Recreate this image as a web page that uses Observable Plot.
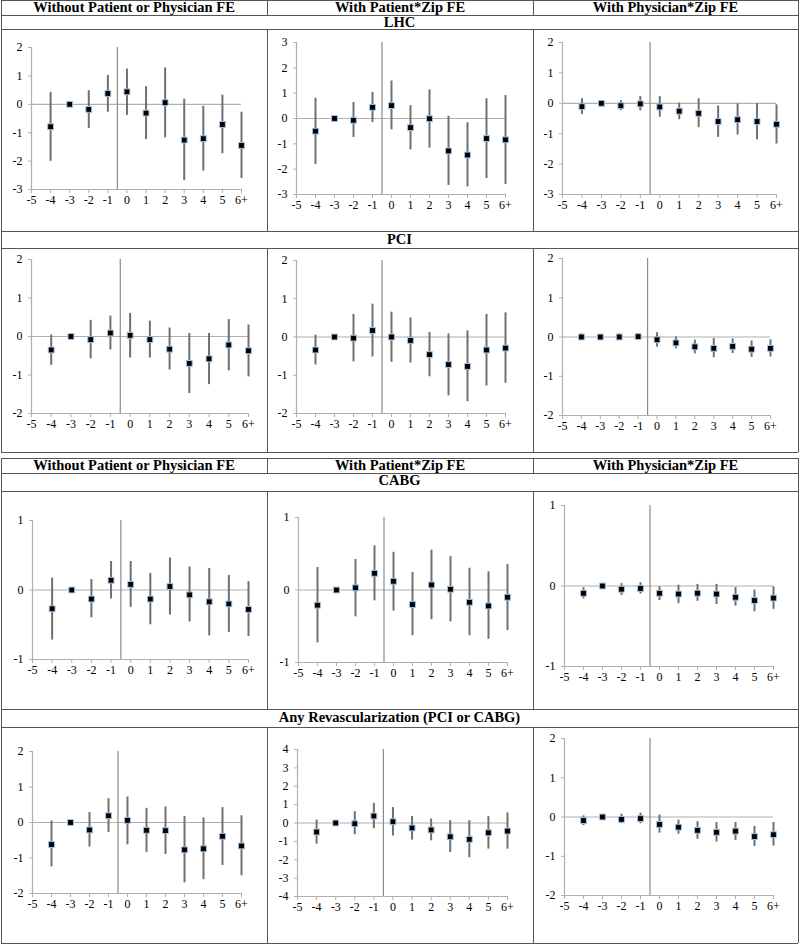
<!DOCTYPE html>
<html><head><meta charset="utf-8">
<script src="https://cdn.jsdelivr.net/npm/d3@7"></script>
<script src="https://cdn.jsdelivr.net/npm/@observablehq/plot@0.6"></script>
<style>
body{margin:0;background:#fff;}
#root{position:relative;width:800px;height:944px;overflow:hidden;font-family:"Liberation Serif","DejaVu Serif",serif;}
.hl{position:absolute;height:0;border-top:1px solid #555;}
.vl{position:absolute;width:0;border-left:1px solid #555;}
.hdr{position:absolute;text-align:center;font-weight:bold;font-size:14.5px;line-height:15px;color:#000;white-space:nowrap;}
.pnl{position:absolute;}
</style></head>
<body><div id="root"></div>
<script>
// ---------- data ----------
const eventTimes = [-4, -3, -2, -1, 0, 1, 2, 3, 4, 5, 6];
const xTickValues = [-5, -4, -3, -2, -1, 0, 1, 2, 3, 4, 5, 6];
const xTickLabels = ["-5", "-4", "-3", "-2", "-1", "0", "1", "2", "3", "4", "5", "6+"];
const columnHeaders = ["Without Patient or Physician FE", "With Patient*Zip FE", "With Physician*Zip FE"];
const outcomes = ["LHC", "PCI", "CABG", "Any Revascularization (PCI or CABG)"];

// each entry: [estimate, lower, upper] for eventTimes
const LHC_noFE = [[-0.79,-2.01,0.42],[0,0,0],[-0.18,-0.85,0.48],[0.38,-0.28,1.02],[0.44,-0.39,1.24],[-0.31,-1.24,0.62],[0.06,-1.18,1.28],[-1.26,-2.69,0.18],[-1.21,-2.35,-0.07],[-0.71,-1.74,0.32],[-1.45,-2.61,-0.28]];
const LHC_patZip = [[-0.50,-1.81,0.80],[0,0,0],[-0.07,-0.75,0.63],[0.44,-0.16,1.03],[0.51,-0.45,1.48],[-0.36,-1.24,0.51],[-0.01,-1.17,1.13],[-1.28,-2.64,0.09],[-1.44,-2.70,-0.17],[-0.79,-2.37,0.78],[-0.84,-2.60,0.91]];
const LHC_physZip = [[-0.11,-0.37,0.15],[0,0,0],[-0.08,-0.24,0.09],[-0.02,-0.25,0.22],[-0.12,-0.46,0.22],[-0.26,-0.54,0.01],[-0.33,-0.80,0.15],[-0.60,-1.12,-0.09],[-0.54,-1.04,-0.02],[-0.60,-1.20,-0.01],[-0.69,-1.34,-0.05]];
const PCI_noFE = [[-0.35,-0.75,0.04],[0,0,0],[-0.08,-0.58,0.42],[0.09,-0.35,0.53],[0.03,-0.56,0.60],[-0.08,-0.56,0.40],[-0.33,-0.87,0.22],[-0.70,-1.48,0.08],[-0.58,-1.25,0.08],[-0.22,-0.89,0.44],[-0.37,-1.05,0.30]];
const PCI_patZip = [[-0.34,-0.73,0.05],[0,0,0],[-0.03,-0.65,0.59],[0.17,-0.52,0.86],[0.00,-0.66,0.65],[-0.09,-0.68,0.50],[-0.46,-1.04,0.12],[-0.72,-1.54,0.08],[-0.77,-1.69,0.16],[-0.34,-1.28,0.59],[-0.29,-1.21,0.63]];
const PCI_physZip = [[0.00,-0.08,0.08],[0,0,0],[0.00,-0.08,0.08],[0.01,-0.08,0.09],[-0.07,-0.26,0.11],[-0.15,-0.30,0.00],[-0.25,-0.43,-0.08],[-0.29,-0.53,-0.04],[-0.24,-0.42,-0.05],[-0.31,-0.52,-0.10],[-0.29,-0.51,-0.07]];
const CABG_noFE = [[-0.27,-0.72,0.17],[0,0,0],[-0.13,-0.40,0.15],[0.14,-0.13,0.41],[0.08,-0.25,0.41],[-0.13,-0.50,0.24],[0.05,-0.36,0.46],[-0.07,-0.46,0.33],[-0.17,-0.66,0.31],[-0.20,-0.61,0.21],[-0.28,-0.67,0.12]];
const CABG_patZip = [[-0.21,-0.73,0.31],[0,0,0],[0.03,-0.37,0.42],[0.23,-0.15,0.61],[0.12,-0.29,0.52],[-0.20,-0.63,0.24],[0.07,-0.41,0.55],[0.01,-0.44,0.46],[-0.17,-0.63,0.30],[-0.22,-0.68,0.25],[-0.10,-0.56,0.35]];
const CABG_physZip = [[-0.09,-0.16,-0.02],[0,0,0],[-0.04,-0.12,0.03],[-0.03,-0.10,0.04],[-0.09,-0.18,-0.01],[-0.10,-0.22,0.01],[-0.09,-0.19,0.02],[-0.10,-0.23,0.02],[-0.14,-0.25,-0.02],[-0.18,-0.32,-0.05],[-0.15,-0.29,-0.01]];
const ANY_noFE = [[-0.62,-1.25,0.04],[0,0,0],[-0.21,-0.69,0.28],[0.19,-0.28,0.67],[0.06,-0.63,0.72],[-0.22,-0.84,0.40],[-0.23,-0.90,0.44],[-0.77,-1.70,0.17],[-0.74,-1.61,0.13],[-0.39,-1.21,0.42],[-0.66,-1.50,0.19]];
const ANY_patZip = [[-0.49,-1.15,0.16],[0,0,0],[-0.04,-0.64,0.62],[0.38,-0.31,1.07],[0.07,-0.71,0.84],[-0.27,-0.93,0.35],[-0.38,-0.97,0.22],[-0.75,-1.60,0.13],[-0.89,-1.89,0.13],[-0.53,-1.42,0.35],[-0.44,-1.42,0.55]];
const ANY_physZip = [[-0.09,-0.22,0.03],[0,0,0],[-0.06,-0.17,0.07],[-0.04,-0.17,0.10],[-0.19,-0.41,0.05],[-0.26,-0.44,-0.08],[-0.34,-0.57,-0.12],[-0.39,-0.64,-0.14],[-0.36,-0.60,-0.14],[-0.50,-0.75,-0.24],[-0.45,-0.74,-0.14]];

// y-axis ranges per panel
const yRanges = {
  LHC_noFE:[-3,2], LHC_patZip:[-3,3], LHC_physZip:[-3,2],
  PCI_noFE:[-2,2], PCI_patZip:[-2,2], PCI_physZip:[-2,2],
  CABG_noFE:[-1,1], CABG_patZip:[-1,1], CABG_physZip:[-1,1],
  ANY_noFE:[-2,2], ANY_patZip:[-4,4], ANY_physZip:[-2,2]
};

// ---------- layout ----------
const FONT = '"Liberation Serif","DejaVu Serif",serif';
const root = document.getElementById("root");
function hl(x, y, w){ const d=document.createElement("div"); d.className="hl"; d.style.left=x+"px"; d.style.top=y+"px"; d.style.width=w+"px"; root.appendChild(d); }
function vl(x, y, h){ const d=document.createElement("div"); d.className="vl"; d.style.left=x+"px"; d.style.top=y+"px"; d.style.height=h+"px"; root.appendChild(d); }
function txt(s, x, y, w){ const d=document.createElement("div"); d.className="hdr"; d.textContent=s; d.style.left=x+"px"; d.style.top=y+"px"; d.style.width=w+"px"; root.appendChild(d); }

const colX = [1, 267, 533, 798];
function table(top, hdrB, sec1B, pan1B, sec2B, pan2B, sec1, sec2){
  const W = colX[3]-colX[0];
  [top, hdrB, sec1B, pan1B, sec2B, pan2B].forEach(y=>hl(colX[0], y, W));
  vl(colX[0], top, pan2B-top); vl(colX[3], top, pan2B-top);
  [1,2].forEach(i=>{ vl(colX[i], top, hdrB-top); vl(colX[i], sec1B, pan1B-sec1B); vl(colX[i], sec2B, pan2B-sec2B); });
  columnHeaders.forEach((h,i)=>txt(h, colX[i], top, colX[i+1]-colX[i]));
  txt(sec1, colX[0], hdrB, W);
  txt(sec2, colX[0], pan1B+1, W);
}
table(0, 15, 29, 231, 248, 452, outcomes[0], outcomes[1]);
table(458, 473, 491, 709, 727, 943, outcomes[2], outcomes[3]);

// ---------- panels ----------
function panel(data, yr, axisX, endX, topY, botY){
  const [ymin, ymax] = yr;
  const rows = eventTimes.map((t,i)=>({t, est:data[i][0], lo:data[i][1], hi:data[i][2]}));
  const ML=40, MR=22, MT=14, MB=22;
  const svg = Plot.plot({
    width: endX-axisX+ML+MR, height: botY-topY+MT+MB,
    marginLeft: ML, marginRight: MR, marginTop: MT, marginBottom: MB,
    x: {type:"linear", domain:[-5,6]},
    y: {domain:[ymin,ymax]},
    style: {fontFamily:FONT, fontSize:"12px", color:"#000", background:"transparent", overflow:"visible"},
    marks: [
      Plot.ruleY([0], {stroke:"#b0b0b0", strokeWidth:1.2}),
      Plot.ruleX([-5], {stroke:"#b0b0b0", strokeWidth:1.2}),
      Plot.ruleY([ymin], {stroke:"#b0b0b0", strokeWidth:1.2}),
      Plot.ruleX([-0.5], {stroke:"#8a8a8a", strokeWidth:1.2}),
      Plot.axisX({ticks: xTickValues, tickFormat: v=>xTickLabels[xTickValues.indexOf(v)], tickSize:4, tickPadding:2, stroke:"#b0b0b0", fill:"#000", label:null}),
      Plot.axisY({ticks: d3.range(ymin, ymax+0.001, 1), tickFormat: d=>String(d), tickSize:3, tickPadding:6, stroke:"#b0b0b0", fill:"#000", label:null}),
      Plot.ruleX(rows, {x:"t", y1:"lo", y2:"hi", stroke:"#707070", strokeWidth:2}),
      Plot.dot(rows, {x:"t", y:"est", symbol:"square", r:3.3, fill:"#000", stroke:"#9cc3e6", strokeWidth:1})
    ]
  });
  svg.classList.add("pnl");
  svg.style.position="absolute";
  svg.style.left=(axisX-ML)+"px";
  svg.style.top=(topY-MT)+"px";
  root.appendChild(svg);
}

panel(LHC_noFE,    yRanges.LHC_noFE,    31, 241, 47, 189);
panel(LHC_patZip,  yRanges.LHC_patZip,  296, 505, 42, 194);
panel(LHC_physZip, yRanges.LHC_physZip, 562, 776, 42, 194);
panel(PCI_noFE,    yRanges.PCI_noFE,    31, 248, 259, 413);
panel(PCI_patZip,  yRanges.PCI_patZip,  296, 505, 260, 413);
panel(PCI_physZip, yRanges.PCI_physZip, 562, 770, 258, 415);
panel(CABG_noFE,   yRanges.CABG_noFE,   32, 248, 520, 659);
panel(CABG_patZip, yRanges.CABG_patZip, 298, 507, 517, 662);
panel(CABG_physZip,yRanges.CABG_physZip,564, 773, 505, 666);
panel(ANY_noFE,    yRanges.ANY_noFE,    32, 241, 751, 893);
panel(ANY_patZip,  yRanges.ANY_patZip,  297, 507, 749, 896);
panel(ANY_physZip, yRanges.ANY_physZip, 564, 773, 738, 895);
</script></body></html>
